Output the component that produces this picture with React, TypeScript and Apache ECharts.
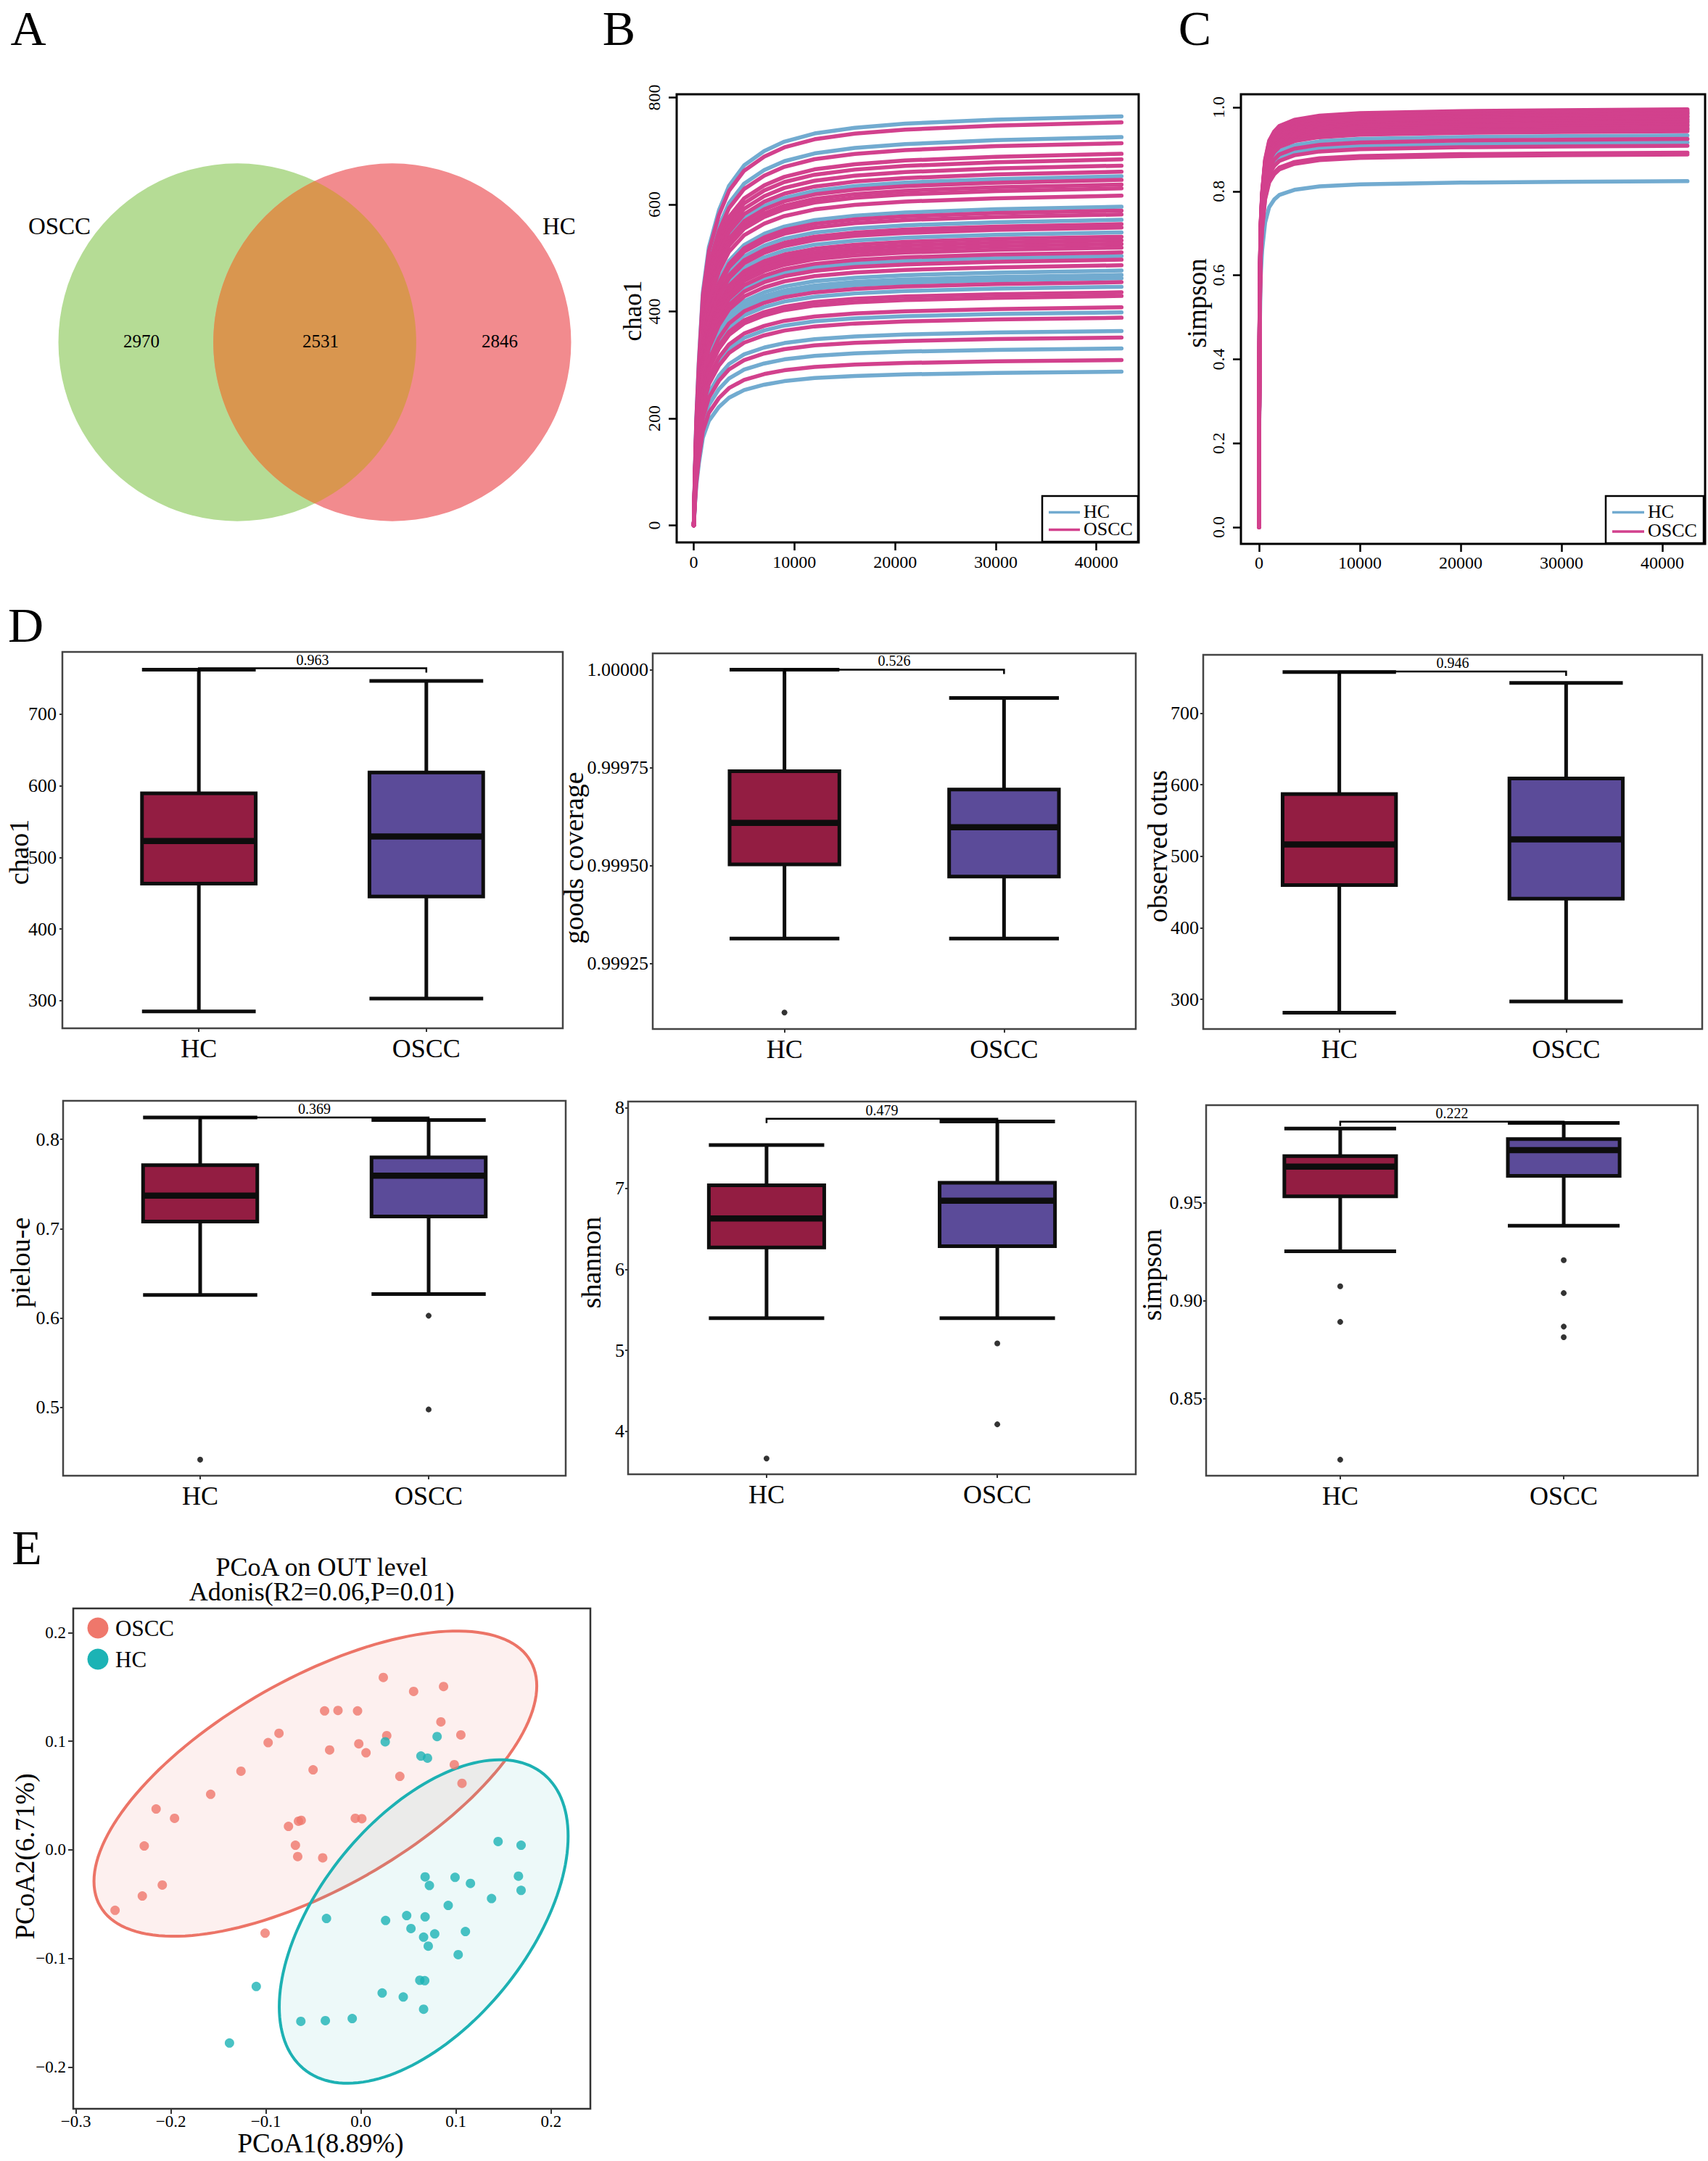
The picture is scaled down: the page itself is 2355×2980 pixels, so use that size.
import React, { useEffect, useRef } from "react";
import * as echarts from "echarts";

const FONT = "'Liberation Serif', 'Times New Roman', serif";

// ---------- A: Venn ----------
const vennSetNames = ["OSCC", "HC"];
const vennCounts = [2970, 2531, 2846]; // OSCC only, shared, HC only

// ---------- B: chao1 rarefaction ----------
const rareDepths = [0, 100, 250, 500, 900, 1500, 2500, 3500, 5000, 7000, 9000, 12000, 16000, 21000, 30000, 42500];
const chao1Shape = [0, 0.12, 0.26, 0.4, 0.57, 0.68, 0.77, 0.83, 0.88, 0.915, 0.938, 0.958, 0.972, 0.982, 0.992, 1];
const chao1FinalHC = [764.8, 725.9, 652.7, 595.7, 571.3, 547.8, 503.5, 476.4, 468.2, 461.9, 446.1, 398.2, 363.3, 330.8, 287.4];
const chao1FinalOSCC = [753.5, 714.6, 694.7, 684.3, 672.6, 661.3, 645.9, 637.2, 630.1, 616.5, 588.5, 581.3, 563.2, 556.8, 539.7, 532.9, 526.1, 519.3, 510.3, 496.7, 486.3, 454.7, 435.7, 428.9, 407.6, 388.2, 351.1, 309.1];
const rareXTicks = [0, 10000, 20000, 30000, 40000];
const chao1YTicks = [0, 200, 400, 600, 800];

// ---------- C: simpson rarefaction ----------
const simpDepths = [0, 20, 60, 150, 300, 600, 1000, 1500, 2000, 3500, 6000, 10000, 20000, 30000, 42500];
const simpsonShape = [0, 0.3, 0.55, 0.72, 0.8, 0.88, 0.925, 0.947, 0.96, 0.975, 0.985, 0.991, 0.996, 0.998, 1];
const simpFinalHC = [0.986, 0.978, 0.971, 0.966, 0.957, 0.949, 0.933, 0.916, 0.824];
const simpFinalOSCC = [0.995, 0.992, 0.989, 0.986, 0.983, 0.979, 0.976, 0.972, 0.968, 0.964, 0.96, 0.956, 0.951, 0.947, 0.943, 0.9246, 0.9084, 0.892, 0.8875];
const simpYTicks = [0, 0.2, 0.4, 0.6, 0.8, 1.0];

// ---------- D: alpha diversity boxplots ----------
const boxGroups = ["HC", "OSCC"];
// [lower whisker, Q1, median, Q3, upper whisker]
const chao1Box = [[285.1, 463.4, 523.0, 589.6, 762.0], [302.9, 445.6, 529.2, 618.5, 746.3]];
const goodsBox = [[0.999314, 0.999503, 0.999609, 0.999741, 1.0], [0.999314, 0.999472, 0.999598, 0.999694, 0.999928]];
const otusBox = [[281.4, 459.8, 516.6, 586.9, 757.6], [297.1, 440.8, 523.6, 608.9, 742.2]];
const pielouBox = [[0.6258, 0.708, 0.737, 0.7711, 0.8245], [0.6267, 0.7137, 0.7593, 0.7798, 0.8217]];
const shannonBox = [[5.397, 6.271, 6.63, 7.041, 7.538], [5.397, 6.288, 6.849, 7.072, 7.829]];
const simpsonBox = [[0.9252, 0.9533, 0.9684, 0.9738, 0.9879], [0.9383, 0.9637, 0.9769, 0.9825, 0.9907]];
const chao1Out = [[], []];
const goodsOut = [[0.999125], []];
const otusOut = [[], []];
const pielouOut = [[0.4413], [0.6025, 0.4975]];
const shannonOut = [[3.664], [5.086, 4.086]];
const simpsonOut = [[0.9074, 0.8892, 0.8189], [0.9207, 0.9039, 0.8868, 0.8814]];
const pValues = ["0.963", "0.526", "0.946", "0.369", "0.479", "0.222"];
const bracketY = [764.1, 1.0, 758.4, 0.8245, 7.863, 0.9914];
const chao1Ticks = [300, 400, 500, 600, 700];
const goodsTicks = [0.99925, 0.9995, 0.99975, 1.0];
const otusTicks = [300, 400, 500, 600, 700];
const pielouTicks = [0.5, 0.6, 0.7, 0.8];
const shannonTicks = [4, 5, 6, 7, 8];
const simpsonTicks = [0.85, 0.9, 0.95];

// ---------- E: PCoA ----------
const pcoaOSCC = [
  [0.0235, 0.1588], [0.0554, 0.146], [0.0869, 0.1505], [-0.0383, 0.128], [-0.0242, 0.1284],
  [-0.0036, 0.128], [0.0841, 0.1179], [0.0271, 0.1052], [0.1051, 0.1059], [-0.0863, 0.1074],
  [-0.0977, 0.0988], [-0.0023, 0.0977], [-0.033, 0.092], [0.0053, 0.0894], [0.0982, 0.0785],
  [-0.0504, 0.0737], [-0.1263, 0.0725], [0.0409, 0.0677], [0.1063, 0.0613], [-0.1582, 0.0512],
  [-0.2156, 0.0377], [-0.1962, 0.0291], [-0.0763, 0.0216], [-0.0658, 0.0264], [-0.0629, 0.0272],
  [-0.006, 0.0291], [0.0009, 0.0287], [-0.2281, 0.0036], [-0.069, 0.0043], [-0.0666, -0.0062],
  [-0.0403, -0.0073], [-0.2091, -0.0324], [-0.2301, -0.0425], [-0.2588, -0.0557], [-0.1009, -0.0767],
];
const pcoaHC = [
  [0.0255, 0.0995], [0.0801, 0.1044], [0.0631, 0.0864], [0.07, 0.0845], [0.1443, 0.0077],
  [0.1685, 0.0043], [0.0675, -0.0249], [0.099, -0.0253], [0.072, -0.0328], [0.1152, -0.0309],
  [0.1657, -0.0242], [0.1685, -0.0373], [0.1374, -0.0448], [0.0918, -0.0512], [-0.0363, -0.0632],
  [0.0259, -0.065], [0.0481, -0.0605], [0.0675, -0.0617], [0.0526, -0.0725], [0.0776, -0.0774],
  [0.1099, -0.0752], [0.0659, -0.0804], [0.0708, -0.0887], [0.1023, -0.0965], [-0.1102, -0.1258],
  [0.0619, -0.1201], [0.0671, -0.1205], [0.0223, -0.1318], [0.0445, -0.1355], [0.0659, -0.1468],
  [-0.0633, -0.158], [-0.0375, -0.1573], [-0.0092, -0.1554], [-0.1384, -0.1779],
];
// confidence ellipse: centre x, centre y, x-amplitude, y cos-amplitude, y sin-amplitude
const ellipseOSCC = [-0.048, 0.061, 0.233, 0.09, 0.108];
const ellipseHC = [0.066, -0.066, 0.152, 0.0786, 0.1266];
const pcoaXTicks = [-0.3, -0.2, -0.1, 0.0, 0.1, 0.2];
const pcoaYTicks = [-0.2, -0.1, 0.0, 0.1, 0.2];

// ---------- colours & layout ----------
const C_HC_LINE = "#72abd0";
const C_OSCC_LINE = "#d2418d";
const C_HC_BOX = "#931d42";
const C_OSCC_BOX = "#5b4b99";
const C_OSCC_PT = "#ef776b";
const C_HC_PT = "#1cb3b5";
const VENN_COLORS = ["#b5dc95", "#f28b8e"];
const VENN_OVERLAP = "#d9964f";

const LAYOUT = {
  venn: { left: 64, top: 102, width: 740, height: 740 },
  vennCenters: [-0.433, 0.433],
  vennNamePos: [[-1.427, 0.649], [1.366, 0.649]],
  vennCountPos: [[-0.969, 0.008], [0.032, 0.008], [1.034, 0.008]],
  B: { left: 933, top: 130, width: 637, height: 618 },
  C: { left: 1711, top: 130, width: 640, height: 620 },
  D: [
    { left: 86, top: 899, width: 690, height: 519 },
    { left: 900, top: 901, width: 666, height: 518 },
    { left: 1659, top: 903, width: 688, height: 516 },
    { left: 87, top: 1518, width: 693, height: 517 },
    { left: 866, top: 1519, width: 700, height: 514 },
    { left: 1663, top: 1524, width: 678, height: 511 },
  ],
  E: { left: 101, top: 2218, width: 713, height: 690 },
};

const D_PANELS = [
  { box: chao1Box, out: chao1Out, ticks: chao1Ticks, dec: 0, min: 261.5, max: 786.9, title: "chao1", tx: 25.5, ty: 1175, lm: 8 },
  { box: goodsBox, out: goodsOut, ticks: goodsTicks, dec: 5, min: 0.999083, max: 1.0000416, title: "goods coverage", tx: 791, ty: 1183, lm: 6 },
  { box: otusBox, out: otusOut, ticks: otusTicks, dec: 0, min: 258.6, max: 781.6, title: "observed otus", tx: 1595.5, ty: 1167, lm: 6 },
  { box: pielouBox, out: pielouOut, ticks: pielouTicks, dec: 1, min: 0.4233, max: 0.8432, title: "pielou-e", tx: 28, ty: 1741, lm: 5 },
  { box: shannonBox, out: shannonOut, ticks: shannonTicks, dec: 0, min: 3.469, max: 8.075, title: "shannon", tx: 815, ty: 1741, lm: 5 },
  { box: simpsonBox, out: simpsonOut, ticks: simpsonTicks, dec: 2, min: 0.8107, max: 0.9998, title: "simpson", tx: 1588, ty: 1758, lm: 5 },
];

function txt(text: string, x: number, y: number, size: number, opts: any = {}) {
  return {
    type: "text",
    x,
    y,
    rotation: opts.rotation || 0,
    silent: true,
    z: 50,
    style: {
      text,
      fill: "#000",
      fontSize: size,
      fontFamily: FONT,
      align: opts.align || "center",
      textAlign: opts.align || "center",
      verticalAlign: "middle",
      textVerticalAlign: "middle",
    },
  };
}

function buildOption() {
  const grids: any[] = [];
  const xAxes: any[] = [];
  const yAxes: any[] = [];
  const series: any[] = [];
  const graphics: any[] = [];
  const noLine = { show: false, onZero: false };

  // ---- grid 0: Venn ----
  grids.push({ ...LAYOUT.venn, show: false });
  xAxes.push({ type: "value", gridIndex: 0, min: -1.5, max: 1.5, show: false, axisLine: noLine });
  yAxes.push({ type: "value", gridIndex: 0, min: -1.5, max: 1.5, show: false, axisLine: noLine });
  series.push({
    type: "custom",
    xAxisIndex: 0,
    yAxisIndex: 0,
    silent: true,
    data: vennSetNames.map((n, i) => [LAYOUT.vennCenters[i], 0, 1, i]),
    renderItem: (params: any, api: any) => {
      const c = api.coord([api.value(0), api.value(1)]);
      const r = api.size([api.value(2), 0])[0];
      return { type: "circle", shape: { cx: c[0], cy: c[1], r }, style: { fill: VENN_COLORS[api.value(3)] } };
    },
  });
  series.push({
    type: "custom",
    xAxisIndex: 0,
    yAxisIndex: 0,
    silent: true,
    data: [[LAYOUT.vennCenters[0], LAYOUT.vennCenters[1], 1]],
    renderItem: (params: any, api: any) => {
      const c1 = api.value(0);
      const c2 = api.value(1);
      const r = api.value(2);
      const h = (c2 - c1) / 2;
      const mid = (c1 + c2) / 2;
      const alpha = Math.acos(h / r);
      const pts: number[][] = [];
      const N = 80;
      for (let k = 0; k <= N; k++) {
        const t = -alpha + (2 * alpha * k) / N;
        pts.push(api.coord([mid - h + r * Math.cos(t), r * Math.sin(t)]));
      }
      for (let k = 0; k <= N; k++) {
        const t = Math.PI + alpha - (2 * alpha * k) / N;
        pts.push(api.coord([mid + h + r * Math.cos(t), r * Math.sin(t)]));
      }
      return { type: "polygon", shape: { points: pts }, style: { fill: VENN_OVERLAP } };
    },
  });
  series.push({
    type: "custom",
    xAxisIndex: 0,
    yAxisIndex: 0,
    silent: true,
    data: vennSetNames.map((n, i) => [LAYOUT.vennNamePos[i][0], LAYOUT.vennNamePos[i][1], i]),
    renderItem: (params: any, api: any) => {
      const c = api.coord([api.value(0), api.value(1)]);
      return {
        type: "text",
        x: c[0],
        y: c[1],
        style: { text: vennSetNames[api.value(2)], fill: "#000", fontSize: 33, fontFamily: FONT, align: "center", verticalAlign: "middle" },
      };
    },
  });
  series.push({
    type: "custom",
    xAxisIndex: 0,
    yAxisIndex: 0,
    silent: true,
    data: vennCounts.map((n, i) => [LAYOUT.vennCountPos[i][0], LAYOUT.vennCountPos[i][1], i]),
    renderItem: (params: any, api: any) => {
      const c = api.coord([api.value(0), api.value(1)]);
      return {
        type: "text",
        x: c[0],
        y: c[1],
        style: { text: String(vennCounts[api.value(2)]), fill: "#000", fontSize: 25, fontFamily: FONT, align: "center", verticalAlign: "middle" },
      };
    },
  });

  // ---- grids 1,2: rarefaction ----
  const rareAxes = (gi: number, xmin: number, xmax: number, ymin: number, ymax: number, yt: number[], ydec: number, xm: number) => {
    xAxes.push({
      type: "value",
      gridIndex: gi,
      min: xmin,
      max: xmax,
      splitLine: { show: false },
      axisLine: noLine,
      axisTick: { show: true, length: 11, lineStyle: { color: "#000", width: 2.5 }, customValues: rareXTicks },
      axisLabel: { customValues: rareXTicks, formatter: (v: number) => String(v), fontSize: 24, fontFamily: FONT, color: "#000", margin: xm },
    });
    yAxes.push({
      type: "value",
      gridIndex: gi,
      min: ymin,
      max: ymax,
      splitLine: { show: false },
      axisLine: noLine,
      axisTick: { show: true, length: 11, lineStyle: { color: "#000", width: 2.5 }, customValues: yt },
      axisLabel: { customValues: yt, rotate: 90, formatter: (v: number) => v.toFixed(ydec), fontSize: 24, fontFamily: FONT, color: "#000", margin: 19 },
    });
  };
  grids.push({ ...LAYOUT.B, show: true, borderColor: "#000", borderWidth: 3, backgroundColor: "transparent" });
  rareAxes(1, -1700, 44200, -32, 806, chao1YTicks, 0, 15);
  grids.push({ ...LAYOUT.C, show: true, borderColor: "#000", borderWidth: 3, backgroundColor: "transparent" });
  rareAxes(2, -1800, 44250, -0.0397, 1.031, simpYTicks, 1, 14);

  const lineSeries = (finals: number[], shape: number[], depths: number[], name: string, color: string, gi: number) =>
    finals.map((f) => ({
      type: "line",
      name,
      xAxisIndex: gi,
      yAxisIndex: gi,
      data: depths.map((d, i) => [d, f * shape[i]]),
      showSymbol: false,
      symbol: "none",
      smooth: false,
      silent: true,
      lineStyle: { color, width: 5.5, cap: "round", join: "round" },
      z: 2,
    }));
  series.push(...lineSeries(chao1FinalHC, chao1Shape, rareDepths, "HC", C_HC_LINE, 1));
  series.push(...lineSeries(chao1FinalOSCC, chao1Shape, rareDepths, "OSCC", C_OSCC_LINE, 1));
  series.push(...lineSeries(simpFinalHC, simpsonShape, simpDepths, "HC", C_HC_LINE, 2));
  series.push(...lineSeries(simpFinalOSCC, simpsonShape, simpDepths, "OSCC", C_OSCC_LINE, 2));

  // ---- grids 3..8: boxplots ----
  D_PANELS.forEach((p, k) => {
    const gi = 3 + k;
    grids.push({ ...LAYOUT.D[k], show: true, borderColor: "#444", borderWidth: 2.5, backgroundColor: "transparent" });
    xAxes.push({
      type: "value",
      gridIndex: gi,
      min: 0.4,
      max: 2.6,
      splitLine: { show: false },
      axisLine: noLine,
      axisTick: { show: true, length: 5, lineStyle: { color: "#333", width: 2 }, customValues: [1, 2] },
      axisLabel: {
        customValues: [1, 2],
        formatter: (v: number) => boxGroups[Math.round(v) - 1] || "",
        fontSize: 36,
        fontFamily: FONT,
        color: "#000",
        margin: 10,
      },
    });
    yAxes.push({
      type: "value",
      gridIndex: gi,
      min: p.min,
      max: p.max,
      splitLine: { show: false },
      axisLine: noLine,
      axisTick: { show: true, length: 4, lineStyle: { color: "#333", width: 2 }, customValues: p.ticks },
      axisLabel: { customValues: p.ticks, formatter: (v: number) => v.toFixed(p.dec), fontSize: 26, fontFamily: FONT, color: "#000", margin: p.lm },
    });
    series.push({
      type: "custom",
      xAxisIndex: gi,
      yAxisIndex: gi,
      silent: true,
      encode: { x: 0, y: [1, 2, 3, 4, 5] },
      data: p.box.map((b, g) => [g + 1, b[0], b[1], b[2], b[3], b[4], g]),
      renderItem: (params: any, api: any) => {
        const x = api.value(0);
        const lo = api.coord([x, api.value(1)]);
        const q1 = api.coord([x, api.value(2)]);
        const md = api.coord([x, api.value(3)]);
        const q3 = api.coord([x, api.value(4)]);
        const hi = api.coord([x, api.value(5)]);
        const half = api.size([0.25, 0])[0];
        const cx = lo[0];
        const stroke = "#0d0d0d";
        const ln = (x1: number, y1: number, x2: number, y2: number, w: number) => ({
          type: "line",
          shape: { x1, y1, x2, y2 },
          style: { stroke, lineWidth: w },
        });
        return {
          type: "group",
          children: [
            ln(cx, hi[1], cx, q3[1], 5),
            ln(cx, q1[1], cx, lo[1], 5),
            ln(cx - half, hi[1], cx + half, hi[1], 5),
            ln(cx - half, lo[1], cx + half, lo[1], 5),
            {
              type: "rect",
              shape: { x: cx - half, y: q3[1], width: 2 * half, height: q1[1] - q3[1] },
              style: { fill: api.value(6) === 0 ? C_HC_BOX : C_OSCC_BOX, stroke, lineWidth: 5 },
            },
            ln(cx - half, md[1], cx + half, md[1], 8.5),
          ],
        };
      },
    });
    const outData: number[][] = [];
    p.out.forEach((arr, g) => arr.forEach((v) => outData.push([g + 1, v])));
    series.push({
      type: "scatter",
      xAxisIndex: gi,
      yAxisIndex: gi,
      silent: true,
      symbolSize: 8,
      itemStyle: { color: "#000" },
      data: outData,
      z: 5,
    });
    series.push({
      type: "custom",
      xAxisIndex: gi,
      yAxisIndex: gi,
      silent: true,
      z: 6,
      data: [[1, 2, bracketY[k], k]],
      renderItem: (params: any, api: any) => {
        const a = api.coord([api.value(0), api.value(2)]);
        const b = api.coord([api.value(1), api.value(2)]);
        return {
          type: "group",
          children: [
            {
              type: "polyline",
              shape: { points: [[a[0], a[1] + 6], [a[0], a[1]], [b[0], b[1]], [b[0], b[1] + 6]] },
              style: { stroke: "#000", lineWidth: 2.5, fill: null },
            },
            {
              type: "text",
              x: (a[0] + b[0]) / 2,
              y: a[1] - 2,
              style: { text: pValues[api.value(3)], fill: "#000", fontSize: 20, fontFamily: FONT, align: "center", verticalAlign: "bottom" },
            },
          ],
        };
      },
    });
    graphics.push(txt(p.title, p.tx, p.ty, 38, { rotation: Math.PI / 2 }));
  });

  // ---- grid 9: PCoA ----
  const gE = 9;
  grids.push({ ...LAYOUT.E, show: true, borderColor: "#333", borderWidth: 2.5, backgroundColor: "transparent" });
  const fmtMinus = (v: number) => (v < -1e-9 ? "\u2212" : "") + Math.abs(v).toFixed(1);
  xAxes.push({
    type: "value",
    gridIndex: gE,
    min: -0.3028,
    max: 0.2414,
    splitLine: { show: false },
    axisLine: noLine,
    axisTick: { show: true, length: 7, lineStyle: { color: "#333", width: 2 }, customValues: pcoaXTicks },
    axisLabel: { customValues: pcoaXTicks, formatter: fmtMinus, fontSize: 23, fontFamily: FONT, color: "#000", margin: 6 },
  });
  yAxes.push({
    type: "value",
    gridIndex: gE,
    min: -0.2385,
    max: 0.2224,
    splitLine: { show: false },
    axisLine: noLine,
    axisTick: { show: true, length: 7, lineStyle: { color: "#333", width: 2 }, customValues: pcoaYTicks },
    axisLabel: { customValues: pcoaYTicks, formatter: fmtMinus, fontSize: 23, fontFamily: FONT, color: "#000", margin: 10 },
  });
  const ellSeries = (e: number[], fill: string, stroke: string) => ({
    type: "custom",
    xAxisIndex: gE,
    yAxisIndex: gE,
    silent: true,
    z: 1,
    data: [e],
    renderItem: (params: any, api: any) => {
      const cx = api.value(0), cy = api.value(1), ax = api.value(2), bc = api.value(3), bs = api.value(4);
      const pts: number[][] = [];
      for (let k = 0; k <= 160; k++) {
        const t = (k / 160) * 2 * Math.PI;
        pts.push(api.coord([cx + ax * Math.cos(t), cy + bc * Math.cos(t) + bs * Math.sin(t)]));
      }
      return { type: "polygon", shape: { points: pts }, style: { fill, stroke, lineWidth: 4 } };
    },
  });
  series.push(ellSeries(ellipseOSCC, "rgba(240,119,108,0.11)", "#ec7467"));
  series.push(ellSeries(ellipseHC, "rgba(28,179,181,0.08)", "#1db1b3"));
  series.push({ type: "scatter", name: "OSCC", xAxisIndex: gE, yAxisIndex: gE, silent: true, symbolSize: 13, itemStyle: { color: C_OSCC_PT }, data: pcoaOSCC, z: 3 });
  series.push({ type: "scatter", name: "HC", xAxisIndex: gE, yAxisIndex: gE, silent: true, symbolSize: 13, itemStyle: { color: C_HC_PT }, data: pcoaHC, z: 3 });

  // ---- graphic: panel letters, titles, legends ----
  graphics.push(txt("A", 39, 39, 68));
  graphics.push(txt("B", 853.5, 39, 68));
  graphics.push(txt("C", 1647.5, 39, 68));
  graphics.push(txt("D", 35.5, 862, 68));
  graphics.push(txt("E", 37, 2134, 68));
  graphics.push(txt("chao1", 872, 428.6, 35, { rotation: Math.PI / 2 }));
  graphics.push(txt("simpson", 1650.5, 418, 37, { rotation: Math.PI / 2 }));
  graphics.push(txt("PCoA on OUT level", 443.6, 2160.6, 36));
  graphics.push(txt("Adonis(R2=0.06,P=0.01)", 443.6, 2195.4, 36));
  graphics.push(txt("PCoA1(8.89%)", 442, 2955.8, 37));
  graphics.push(txt("PCoA2(6.71%)", 34.4, 2560, 37, { rotation: Math.PI / 2 }));

  const lineLegend = (bx: number, by: number, bw: number, bh: number, lx1: number, lx2: number, ys: number[], tx: number) => {
    graphics.push({
      type: "rect",
      silent: true,
      z: 40,
      shape: { x: bx, y: by, width: bw, height: bh },
      style: { fill: "#fff", stroke: "#000", lineWidth: 2.5 },
    });
    const cols = [C_HC_LINE, C_OSCC_LINE];
    ["HC", "OSCC"].forEach((n, i) => {
      graphics.push({
        type: "line",
        silent: true,
        z: 41,
        shape: { x1: lx1, y1: ys[i], x2: lx2, y2: ys[i] },
        style: { stroke: cols[i], lineWidth: 3.5 },
      });
      graphics.push(txt(n, tx, ys[i] - 1.5, 26, { align: "left" }));
    });
  };
  lineLegend(1437, 684, 132, 63, 1446, 1489, [706.6, 730.6], 1494);
  lineLegend(2214, 684, 135, 65, 2223, 2267, [706.6, 733], 2272);

  [["OSCC", C_OSCC_PT, 2245], ["HC", C_HC_PT, 2288]].forEach(([n, c, y]: any) => {
    graphics.push({ type: "circle", silent: true, z: 41, shape: { cx: 135, cy: y, r: 14.5 }, style: { fill: c } });
    graphics.push(txt(n, 159, y, 31, { align: "left" }));
  });

  return {
    animation: false,
    backgroundColor: "#fff",
    textStyle: { fontFamily: FONT },
    grid: grids,
    xAxis: xAxes,
    yAxis: yAxes,
    series,
    graphic: { elements: graphics },
  };
}

export default function App() {
  const ref = useRef<HTMLDivElement>(null);
  useEffect(() => {
    if (!ref.current) return;
    const chart = echarts.init(ref.current, null, { renderer: "svg", width: 2355, height: 2980 });
    chart.setOption(buildOption() as any);
    return () => chart.dispose();
  }, []);
  return (
    <div
      ref={ref}
      style={{ position: "absolute", left: 0, top: 0, width: 2355, height: 2980, background: "#fff" }}
    />
  );
}
